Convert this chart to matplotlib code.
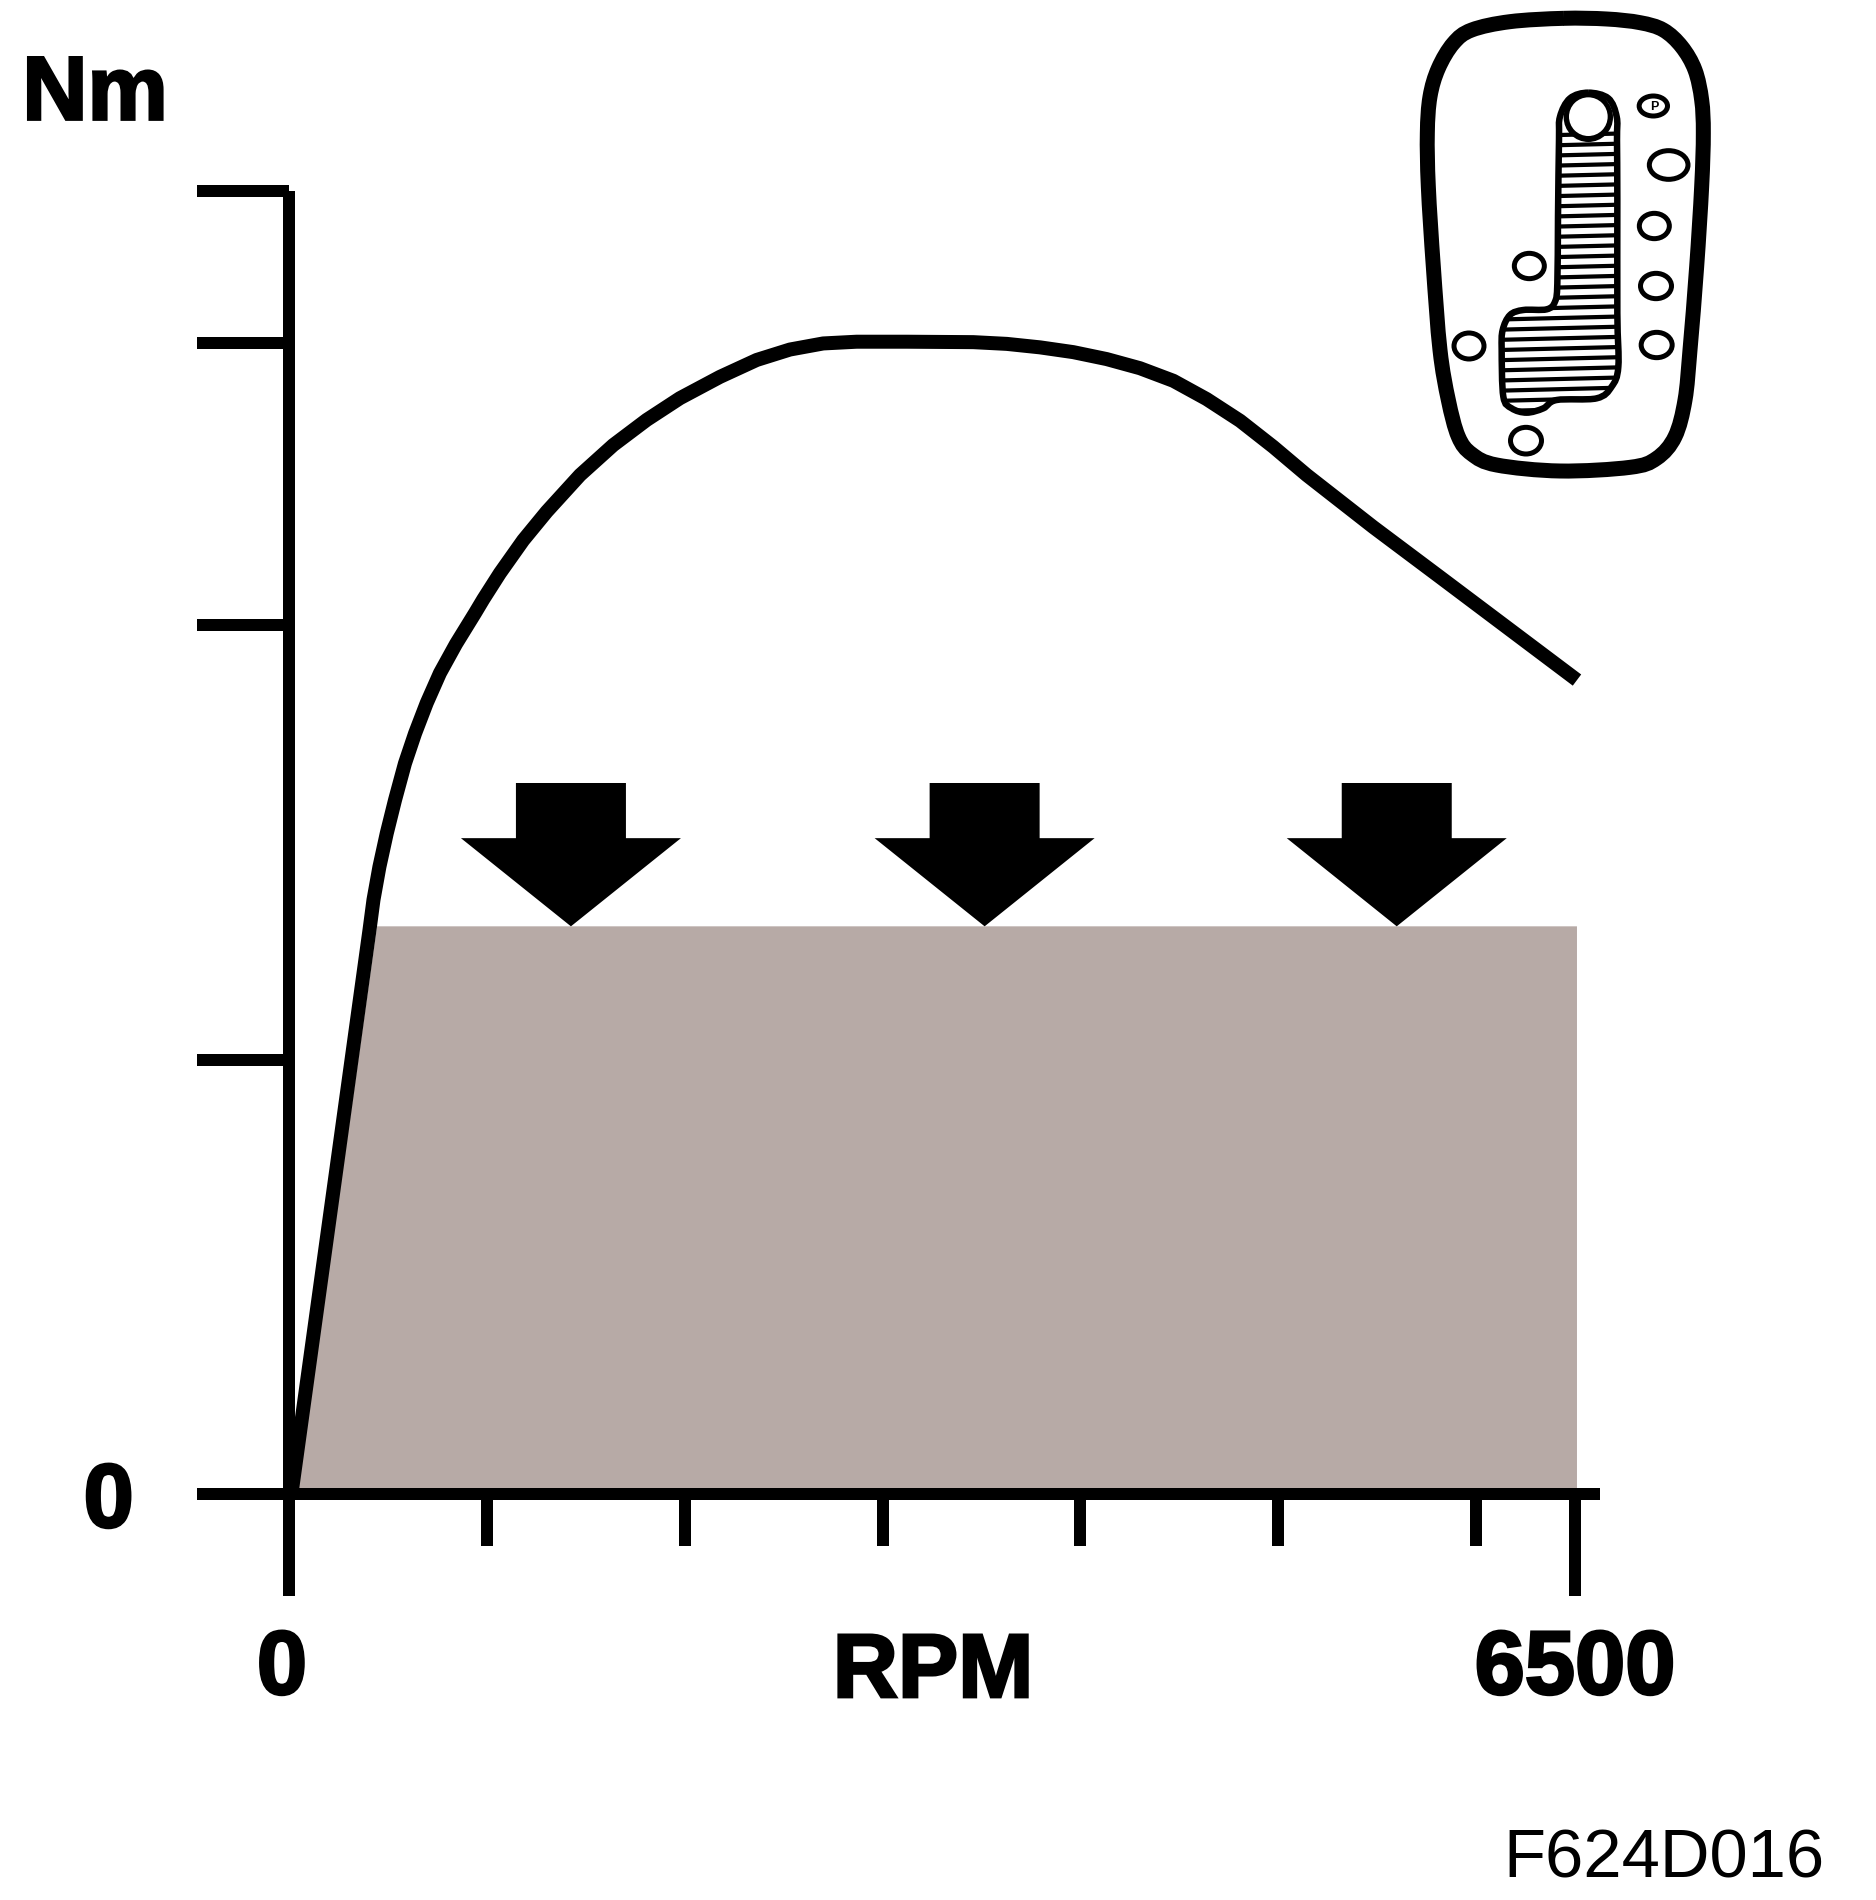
import numpy as np
import matplotlib
matplotlib.use("Agg")
import matplotlib.pyplot as plt
import matplotlib.patheffects as pe
from matplotlib.patches import Ellipse, PathPatch, Circle
from matplotlib.path import Path
from matplotlib.transforms import ScaledTranslation

plt.rcParams['font.family'] = ['Liberation Sans', 'DejaVu Sans']

# ---- data (RPM / Nm-like units) ----
curve_rpm = [15, 407, 427, 457, 494, 536, 586, 637, 696, 763, 844, 940, 982, 1066, 1184, 1303, 1471, 1639, 1808, 1976,
             2178, 2364, 2532, 2700, 2869, 3122, 3459, 3628, 3796, 3964, 4133, 4301, 4470, 4638, 4807, 4975, 5144, 5481,
             5818, 6510]
curve_nm = [0.9, 129.9, 136.8, 144.4, 152.1, 159.8, 168.2, 175.1, 182.1, 189.0, 195.7, 202.8, 206.0, 212.0, 219.6,
            226.2, 234.6, 241.5, 247.3, 252.3, 257.2, 261.1, 263.5, 264.9, 265.3, 265.3, 265.2, 264.8, 264.0, 262.9,
            261.3, 259.2, 256.3, 252.1, 247.1, 241.1, 234.6, 222.6, 211.1, 187.4]
band_rpm = [40, 445, 6510, 6510]
band_nm = [0, 130.7, 130.7, 0]
arrow_rpm = [1425, 3516, 5599]
arrow_tip_nm = 130.7
y_ticks = [0, 100, 200, 265, 300]
y_tick_labels = ['0', '', '', '', '']
x_major = [0, 6500]
x_major_labels = ['0', '6500']
x_minor = [1000, 2000, 3000, 4000, 5000, 6000]

W, H = 1876, 1900
LW = 12 * 0.72
fig = plt.figure(figsize=(W / 100, H / 100), dpi=100, facecolor='white')
L, R, T, B = 289, 1600, 191, 1494
ax = fig.add_axes([L / W, 1 - B / H, (R - L) / W, (B - T) / H])
ax.set_xlim(0, 6500 * (R - L) / (1575 - L))
ax.set_ylim(0, 300)
for s in ('top', 'right'):
    ax.spines[s].set_visible(False)
for s in ('left', 'bottom'):
    ax.spines[s].set_linewidth(LW)
    ax.spines[s].set_capstyle('butt')

ax.fill(band_rpm, band_nm, color='#B7AAA6', lw=0, zorder=1)
ax.plot(curve_rpm, curve_nm, color='black', lw=14 * 0.72, solid_capstyle='butt', solid_joinstyle='round',
        zorder=3, clip_on=False)

# block arrows
half_head, half_shaft, head_h, total_h = 556, 278, 20.3, 33
for x0 in arrow_rpm:
    ax.fill([x0, x0 + half_head, x0 + half_shaft, x0 + half_shaft, x0 - half_shaft, x0 - half_shaft, x0 - half_head],
            [arrow_tip_nm, arrow_tip_nm + head_h, arrow_tip_nm + head_h, arrow_tip_nm + total_h,
             arrow_tip_nm + total_h, arrow_tip_nm + head_h, arrow_tip_nm + head_h],
            color='black', lw=0, zorder=4)

heavy = [pe.withStroke(linewidth=2, foreground='black', joinstyle='miter')]
ax.set_xticks(x_major, x_major_labels)
ax.set_xticks(x_minor, minor=True)
ax.set_yticks(y_ticks, y_tick_labels)
ax.tick_params(axis='x', which='major', length=(1596 - B) * 0.72, width=LW, pad=23, labelsize=65)
ax.tick_params(axis='x', which='minor', length=(1546 - B) * 0.72, width=LW)
ax.tick_params(axis='y', which='major', length=(L - 197) * 0.72, width=LW, pad=45.5, labelsize=65)
for t in ax.get_xticklabels() + ax.get_yticklabels():
    t.set_fontweight('bold')
    t.set_path_effects(heavy)
ax.get_xticklabels()[0].set_transform(ax.get_xticklabels()[0].get_transform() + ScaledTranslation(-7 / 100, 0, fig.dpi_scale_trans))
ax.set_xlabel('RPM', fontsize=65, fontweight='bold', path_effects=heavy)
ax.xaxis.set_label_coords((933 - L) / (R - L), (B - 1697) / (B - T), transform=ax.transAxes)
ax.xaxis.label.set_verticalalignment('baseline')
ax.xaxis.label.set_horizontalalignment('center')
ax.set_ylabel('Nm', fontsize=65, fontweight='bold', rotation=0, path_effects=heavy, ha='center', va='center')
ax.yaxis.set_label_coords((95 - L) / (R - L), (B - 96) / (B - T), transform=ax.transAxes)

fig.text(1824 / W, 1 - 1878 / H, 'F624D016', fontsize=49.5, ha='right', va='baseline', color='black')

# ---- gear selector icon, drawn in zoom units (3 per pixel) ----
ix = fig.add_axes([1400 / W, 1 - 490 / H, 340 / W, 490 / H])
ix.set_xlim(0, 1020)
ix.set_ylim(1470, 0)
ix.axis('off')
ix.patch.set_alpha(0)


def smooth_closed(pts):
    p = np.array(pts, float)
    n = len(p)
    verts = [p[0]]
    codes = [Path.MOVETO]
    for i in range(n):
        p0, p1, p2, p3 = p[i - 1], p[i], p[(i + 1) % n], p[(i + 2) % n]
        verts += [p1 + (p2 - p0) / 6, p2 - (p3 - p1) / 6, p2]
        codes += [Path.CURVE4] * 3
    return Path(verts, codes)


outer = [(490, 55), (620, 57), (720, 68), (790, 90), (845, 140), (885, 210), (905, 300), (910, 400), (905, 560), (890, 800),
         (870, 1050), (855, 1200), (825, 1310), (770, 1375), (690, 1402), (480, 1413), (290, 1395), (215, 1362),
         (175, 1310), (145, 1200), (120, 1050), (100, 800), (85, 560), (82, 400), (90, 290), (115, 205), (160, 130),
         (215, 90), (330, 65)]
ix.add_patch(PathPatch(smooth_closed(outer), fc='none', ec='black', lw=15 * 0.72))

slot = [(565, 278), (625, 295), (650, 350), (651, 420), (652, 600), (652, 940), (655, 1100), (635, 1160), (590, 1195),
        (470, 1200), (430, 1225), (380, 1238), (335, 1225), (310, 1190), (305, 1050), (308, 990), (330, 945), (370, 930),
        (440, 928), (465, 905), (472, 850), (474, 650), (477, 420), (480, 350), (510, 295)]
slot_path = PathPatch(smooth_closed(slot), fc='white', ec='none')
ix.add_patch(slot_path)
hatch_y = np.arange(405, 1240, 30.5)
for yy in hatch_y:
    ln, = ix.plot([280, 680], [yy + 5, yy - 5], color='black', lw=4.2 * 0.72, solid_capstyle='butt')
    ln.set_clip_path(slot_path)
ix.add_patch(PathPatch(smooth_closed(slot), fc='none', ec='black', lw=6.5 * 0.72))
ix.add_patch(Circle((565, 352), 74, fc='black', ec='none', zorder=4))
ix.add_patch(Circle((565, 350), 58, fc='white', ec='none', zorder=5))

ellipses = [(760, 318, 85, 60), (806, 495, 116, 86), (763, 678, 90, 76), (768, 858, 93, 76), (770, 1035, 93, 76),
            (388, 798, 90, 76), (207, 1038, 90, 78), (378, 1322, 93, 80)]
for cx, cy, w, h in ellipses:
    ix.add_patch(Ellipse((cx, cy), w, h, fc='white', ec='black', lw=5 * 0.72, zorder=5))
ix.text(762, 320, 'P', fontsize=9, fontweight='bold', ha='center', va='center', zorder=6)

fig.savefig('out.png', dpi=100)
